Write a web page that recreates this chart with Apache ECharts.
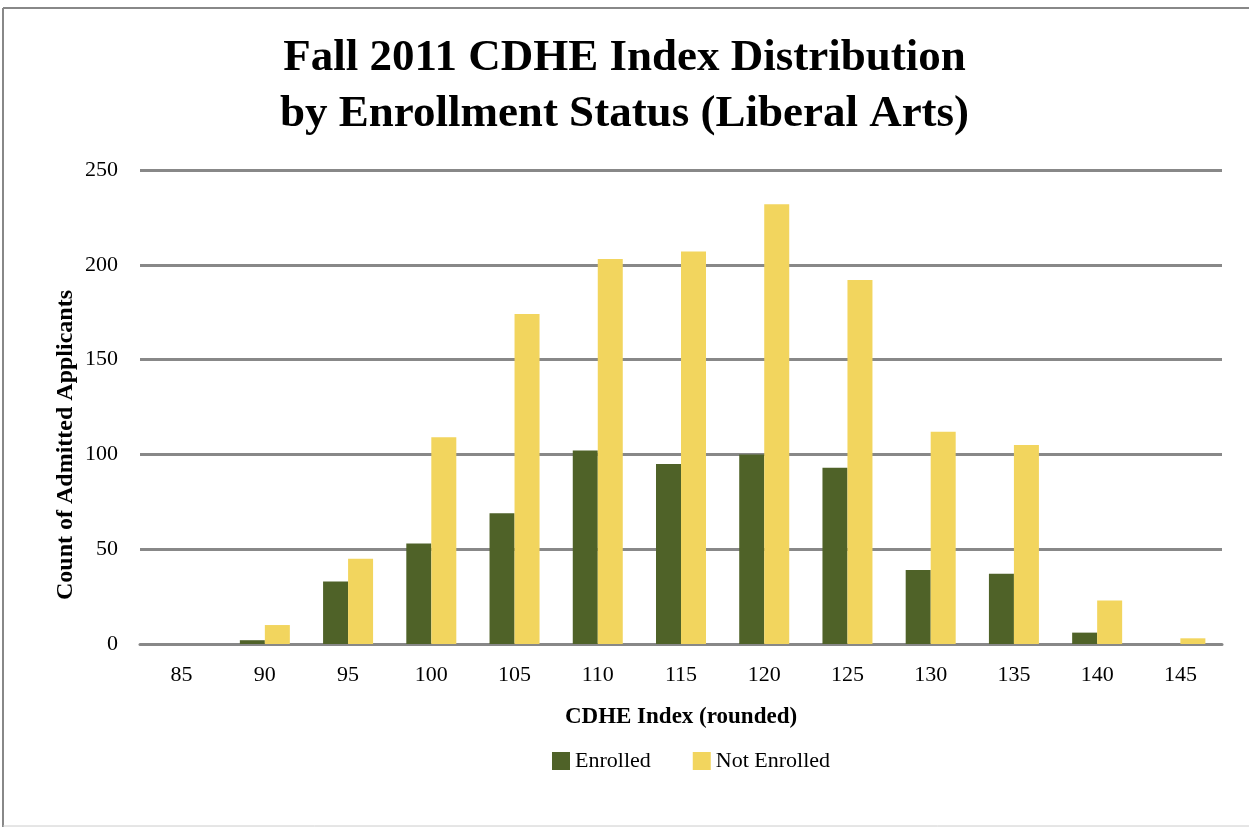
<!DOCTYPE html>
<html>
<head>
<meta charset="utf-8">
<script src="https://cdn.jsdelivr.net/npm/echarts@6/dist/echarts.min.js"></script>
<style>
html,body{margin:0;padding:0;background:#fff;}
#c{width:1249px;height:827px;}
</style>
</head>
<body>
<div id="c"></div>
<script>
const categories = ['85','90','95','100','105','110','115','120','125','130','135','140','145'];
const enrolled = [0, 2, 33, 53, 69, 102, 95, 100, 93, 39, 37, 6, 0];
const notEnrolled = [0, 10, 45, 109, 174, 203, 207, 232, 192, 112, 105, 23, 3];
const yTicks = [0, 50, 100, 150, 200, 250];
const yAxisTitle = 'Count of Admitted Applicants';

const serif = '"Liberation Serif", "DejaVu Serif", serif';
const chart = echarts.init(document.getElementById('c'));
chart.setOption({
  animation: false,
  backgroundColor: '#fff',
  title: {
    text: 'Fall 2011 CDHE Index Distribution\nby Enrollment Status (Liberal Arts)',
    left: 'center',
    top: 25,
    textStyle: { fontFamily: serif, fontSize: 45, fontWeight: 'bold', color: '#000', lineHeight: 56 }
  },
  legend: {
    top: 745,
    left: 547,
    itemWidth: 18,
    itemHeight: 18,
    itemGap: 42,
    icon: 'rect',
    textStyle: { fontFamily: serif, fontSize: 22, color: '#000' },
    data: ['Enrolled', 'Not Enrolled']
  },
  grid: { left: 140, right: 27, top: 170, bottom: 183 },
  xAxis: {
    type: 'category',
    data: categories,
    name: 'CDHE Index (rounded)',
    nameLocation: 'middle',
    nameGap: 62,
    nameTextStyle: { fontFamily: serif, fontSize: 23, fontWeight: 'bold', color: '#000' },
    axisLine: { lineStyle: { color: '#888', width: 3 } },
    axisTick: { show: false },
    axisLabel: { fontFamily: serif, fontSize: 22, color: '#000', margin: 20 }
  },
  yAxis: {
    type: 'value',
    min: yTicks[0],
    max: yTicks[yTicks.length - 1],
    interval: 50,
    axisLine: { show: false },
    axisTick: { show: false },
    axisLabel: { fontFamily: serif, fontSize: 22, color: '#000', margin: 22 },
    splitLine: { lineStyle: { color: '#888', width: 3 } }
  },
  series: [
    {
      name: 'Enrolled', type: 'bar', data: enrolled,
      barWidth: 25, barGap: '0%',
      itemStyle: { color: '#4F6228' }
    },
    {
      name: 'Not Enrolled', type: 'bar', data: notEnrolled,
      barWidth: 25, barGap: '0%',
      itemStyle: { color: '#F2D55E' }
    }
  ],
  graphic: [
    { type: 'line', shape: { x1: 3, y1: 8, x2: 1249, y2: 8 }, style: { stroke: '#888', lineWidth: 2 } },
    { type: 'line', shape: { x1: 3, y1: 8, x2: 3, y2: 827 }, style: { stroke: '#888', lineWidth: 2 } },
    { type: 'line', shape: { x1: 3, y1: 826, x2: 1249, y2: 826 }, style: { stroke: '#ccc', lineWidth: 1 } },
    {
      type: 'text', x: 66, y: 445, rotation: Math.PI / 2,
      style: { text: yAxisTitle, fontFamily: serif, fontSize: 24, fontWeight: 'bold', fill: '#000', align: 'center', verticalAlign: 'middle' }
    }
  ]
});
</script>
</body>
</html>
